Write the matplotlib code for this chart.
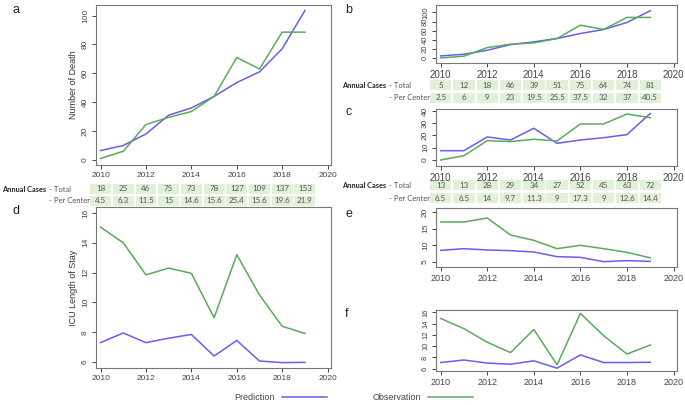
import numpy as np
import matplotlib
matplotlib.use("Agg")
import matplotlib.pyplot as plt
from matplotlib.patches import Rectangle
from matplotlib.lines import Line2D
import matplotlib.transforms as mtransforms

plt.rcParams['font.family'] = ['Liberation Sans', 'DejaVu Sans']

years = np.arange(2010, 2020)

# panel a / b / c : number of death
pred_a = [6.5, 10, 18, 31, 36, 44, 53.6, 61, 77, 103.5]
obs_a = [1, 6, 24.5, 29.5, 33.5, 44, 71, 63, 88.5, 88.5]
pred_b = [5.4, 9, 17.7, 30, 35.9, 43.2, 54, 62.8, 78, 103.5]
obs_b = [1, 4.7, 23.5, 30.8, 33.7, 43.2, 72.2, 62.8, 89, 89]
pred_c = [7.6, 7.6, 18.8, 16.3, 25.9, 13.6, 16.3, 18.2, 20.7, 38]
obs_c = [0, 3.5, 15.8, 15, 16.9, 15.5, 29.4, 29.4, 37.5, 34.5]

# panel d / e / f : ICU length of stay
pred_d = [7.3, 7.95, 7.3, 7.6, 7.85, 6.4, 7.45, 6.07, 5.96, 5.98]
obs_d = [15.05, 14.0, 11.85, 12.3, 11.95, 8.97, 13.2, 10.5, 8.4, 7.92]
pred_e = [8.5, 9.0, 8.6, 8.4, 8.0, 6.6, 6.4, 5.1, 5.4, 5.2]
obs_e = [17.0, 17.0, 18.2, 13.1, 11.5, 9.0, 10.0, 9.0, 7.9, 6.25]
pred_f = [7.1, 7.55, 7.0, 6.8, 7.4, 6.1, 8.45, 7.1, 7.1, 7.15]
obs_f = [14.9, 13.1, 10.7, 8.85, 12.95, 6.7, 15.8, 11.85, 8.6, 10.2]

# annual cases tables
total_a = ['18', '25', '46', '75', '73', '78', '127', '109', '137', '153']
center_a = ['4.5', '6.3', '11.5', '15', '14.6', '15.6', '25.4', '15.6', '19.6', '21.9']
total_b = ['5', '12', '18', '46', '39', '51', '75', '64', '74', '81']
center_b = ['2.5', '6', '9', '23', '19.5', '25.5', '37.5', '32', '37', '40.5']
total_c = ['13', '13', '28', '29', '34', '27', '52', '45', '63', '72']
center_c = ['6.5', '6.5', '14', '9.7', '11.3', '9', '17.3', '9', '12.6', '14.4']

BLUE = '#6a5cf0'
GREEN = '#5aaa5a'
CELL = '#e2efd9'
W, H = 685, 405

fig = plt.figure(figsize=(6.85, 4.05), dpi=100)


def add_ax(l, r, t, b):
    return fig.add_axes([l / W, 1 - b / H, (r - l) / W, (b - t) / H])


def style(ax, ylim, yticks, xfs=6, yfs=6):
    ax.set_xlim(2009.8, 2020.15)
    ax.set_ylim(*ylim)
    ax.set_xticks([2010, 2012, 2014, 2016, 2018, 2020])
    ax.set_yticks(yticks)
    ax.tick_params(axis='both', colors='#444444', length=3, width=0.7, pad=2)
    ax.tick_params(axis='x', labelsize=xfs)
    ax.tick_params(axis='y', labelsize=yfs, labelrotation=90)
    for lab in ax.get_yticklabels():
        lab.set_va('center')
    for s in ax.spines.values():
        s.set_color('#777777')
        s.set_linewidth(0.8)


def draw(ax, pred, obs):
    ax.plot(years, pred, color=BLUE, lw=1.1)
    ax.plot(years, obs, color=GREEN, lw=1.1)


def table(ax, t1, b1, t2, b2, total, center, xlab):
    tr = mtransforms.blended_transform_factory(ax.transData, fig.transFigure)
    for (top, bot, vals) in [(t1, b1, total), (t2, b2, center)]:
        y0 = 1 - bot / H
        h = (bot - top) / H
        for yr, v in zip(years, vals):
            ax.add_patch(Rectangle((yr - 0.46, y0), 0.92, h, transform=tr,
                                   facecolor=CELL, edgecolor='none', clip_on=False))
            ax.text(yr, y0 + h / 2, v, transform=tr, ha='center', va='center',
                    fontsize=5.8, color='#555555', family='Lato', clip_on=False)
    fig.text(xlab / W, 1 - (t1 + b1) / 2 / H, 'Annual Cases', fontsize=5.3,
             fontweight='bold', family='Lato', va='center', color='#222222')
    fig.text((xlab + 47) / W, 1 - (t1 + b1) / 2 / H, '- Total', fontsize=5.5,
             family='Lato', va='center', color='#555555')
    fig.text((xlab + 47) / W, 1 - (t2 + b2) / 2 / H, '- Per Center', fontsize=5.5,
             family='Lato', va='center', color='#555555')


# left column
ax_a = add_ax(96, 331, 5, 165)
draw(ax_a, pred_a, obs_a)
style(ax_a, (-3.5, 107.3), [0, 20, 40, 60, 80, 100])
ax_a.set_ylabel('Number of Death', fontsize=6.5, color='#333333', labelpad=3)
table(ax_a, 184, 194, 196, 206, total_a, center_a, 2)

ax_d = add_ax(96, 331, 207, 368)
draw(ax_d, pred_d, obs_d)
style(ax_d, (5.6, 16.4), [6, 8, 10, 12, 14, 16])
ax_d.set_ylabel('ICU Length of Stay', fontsize=6.5, color='#333333', labelpad=3)

# right column
ax_b = add_ax(436, 677, 5, 63)
draw(ax_b, pred_b, obs_b)
style(ax_b, (-10, 116), [0, 20, 40, 60, 80, 100], xfs=7, yfs=5.5)
table(ax_b, 80, 90, 93, 103, total_b, center_b, 342)

ax_c = add_ax(436, 677, 109, 166)
draw(ax_c, pred_c, obs_c)
style(ax_c, (-4.9, 41.6), [0, 10, 20, 30, 40], xfs=7)
table(ax_c, 180, 190, 193, 203, total_c, center_c, 342)

ax_e = add_ax(436, 677, 208, 267)
draw(ax_e, pred_e, obs_e)
style(ax_e, (3.5, 21.2), [5, 10, 15, 20], xfs=6.5)

ax_f = add_ax(436, 677, 310, 371)
draw(ax_f, pred_f, obs_f)
style(ax_f, (5.6, 16.4), [6, 8, 10, 12, 14, 16], xfs=6.5, yfs=5.5)

# panel letters
for lab, x, y in [('a', 12, 10), ('b', 345, 10), ('c', 345, 112),
                  ('d', 12, 211), ('e', 345, 214), ('f', 345, 314)]:
    fig.text(x / W, 1 - y / H, lab, fontsize=9, va='center', color='#222222')

handles = [Line2D([], [], color=BLUE, lw=1.1), Line2D([], [], color=GREEN, lw=1.1)]
fig.legend(handles, ['Prediction', 'Observation'], loc='center', ncol=2,
           bbox_to_anchor=(354 / W, 1 - 398 / H), frameon=False, markerfirst=False,
           fontsize=6.5, handlelength=5, columnspacing=5, handletextpad=0.8,
           labelcolor='#444444')

fig.savefig('out.png', dpi=100)
